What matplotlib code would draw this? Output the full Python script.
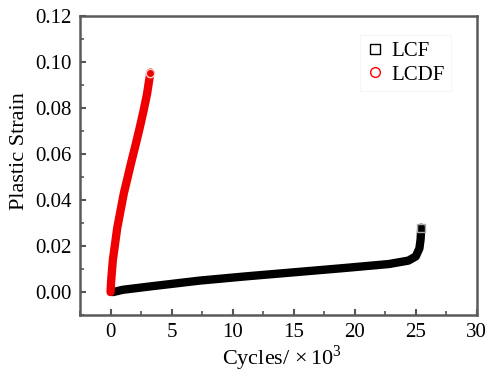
import matplotlib
matplotlib.use('Agg')
import matplotlib.pyplot as plt
from matplotlib.ticker import MultipleLocator, FormatStrFormatter

plt.rcParams['font.family'] = ['Liberation Serif', 'DejaVu Serif']
plt.rcParams['mathtext.fontset'] = 'custom'
plt.rcParams['mathtext.rm'] = 'Liberation Serif'

# values (cycles in thousands)
lcf_cycles = [0.2, 1.0, 3.3, 7.3, 11.0, 15.0, 19.0, 22.8, 24.4, 25.0, 25.3, 25.4, 25.45]
lcf_strain = [0.0, 0.001, 0.0025, 0.005, 0.0068, 0.0086, 0.0104, 0.0122, 0.0137, 0.0155, 0.019, 0.023, 0.028]
lcdf_cycles = [0.0, 0.05, 0.19, 0.55, 1.09, 1.72, 2.05, 2.39, 2.71, 2.99, 3.26]
lcdf_strain = [0.0, 0.005, 0.014, 0.028, 0.043, 0.057, 0.064, 0.0715, 0.079, 0.0862, 0.0955]

fig = plt.figure(figsize=(4.88, 3.76), dpi=100)
ax = fig.add_axes([0.164, 0.162, 0.813, 0.795])

# dense markers in the original look like a thick line
ax.plot(lcf_cycles, lcf_strain, color='black', lw=6, solid_capstyle='round', zorder=2)
ax.plot(lcdf_cycles, lcdf_strain, color='#ee0000', lw=6, solid_capstyle='round', zorder=3)
ax.plot(lcf_cycles[-1], lcf_strain[-1], 's', ms=6, mfc='none', mec='#aaaaaa', zorder=4)
ax.plot(lcdf_cycles[-1], lcdf_strain[-1], 'o', ms=6, mfc='none', mec='#ffcccc', zorder=4)

# legend proxies
ax.plot([], [], 's', ms=7, mfc='none', mec='black', label='LCF')
ax.plot([], [], 'o', ms=7, mfc='none', mec='red', label='LCDF')
leg = ax.legend(loc='upper right', bbox_to_anchor=(0.935, 0.937), fontsize=15,
                frameon=True, fancybox=False, handlelength=0.8, handletextpad=0.4,
                borderpad=0.3, labelspacing=0.2, borderaxespad=0)
leg.get_frame().set_edgecolor('#f4f4f4')
leg.get_frame().set_linewidth(0.8)

ax.set_xlim(-2.5, 30)
ax.set_ylim(-0.01, 0.12)
ax.xaxis.set_major_locator(MultipleLocator(5))
ax.xaxis.set_minor_locator(MultipleLocator(2.5))
ax.yaxis.set_major_locator(MultipleLocator(0.02))
ax.yaxis.set_minor_locator(MultipleLocator(0.01))
ax.yaxis.set_major_formatter(FormatStrFormatter('%.2f'))

ax.tick_params(which='both', direction='in', labelsize=15, color='#555555', pad=6)
ax.tick_params(which='major', length=4, width=1.5)
ax.tick_params(which='minor', length=3, width=1.2)

for sp in ax.spines.values():
    sp.set_color('#5a5a5a')
    sp.set_linewidth(1.8)

ax.set_xlabel(r'Cycles/ $\times\,10^3$', fontsize=16)
ax.xaxis.set_label_coords(0.51, -0.095)
ax.set_ylabel('Plastic Strain', fontsize=16)
ax.yaxis.set_label_coords(-0.128, 0.55)

fig.savefig('out.png', dpi=100)
